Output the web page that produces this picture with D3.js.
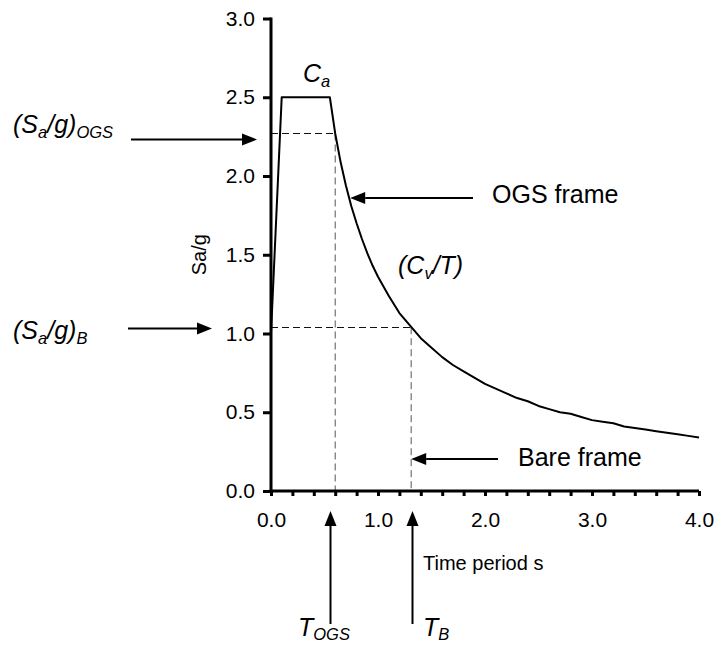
<!DOCTYPE html>
<html>
<head>
<meta charset="utf-8">
<script src="https://cdn.jsdelivr.net/npm/d3@7"></script>
<style>
  html, body { margin: 0; padding: 0; background: #fff; }
  svg { display: block; }
  text { font-family: "Liberation Sans", Arial, Helvetica, sans-serif; fill: #000; }
</style>
</head>
<body>
<svg id="chart" width="715" height="647"></svg>
<script>
// Design spectrum: time period (s) against spectral acceleration ratio Sa/g
const periods = [0, 0.1, 0.55, 0.6, 0.65, 0.7, 0.75, 0.8, 0.85, 0.9, 0.95, 1.0,
  1.1, 1.2, 1.3, 1.4, 1.5, 1.6, 1.7, 1.8, 1.9, 2.0, 2.1, 2.2, 2.3, 2.4, 2.5,
  2.6, 2.7, 2.8, 2.9, 3.0, 3.1, 3.2, 3.3, 3.4, 3.5, 3.6, 3.7, 3.8, 3.9, 4.0];
const saValues = [1.0, 2.5, 2.5, 2.27, 2.09, 1.94, 1.81, 1.70, 1.60, 1.51, 1.43, 1.36,
  1.24, 1.13, 1.05, 0.97, 0.91, 0.85, 0.80, 0.76, 0.72, 0.68, 0.65, 0.62, 0.59, 0.57, 0.54,
  0.52, 0.50, 0.49, 0.47, 0.45, 0.44, 0.43, 0.41, 0.40, 0.39, 0.38, 0.37, 0.36, 0.35, 0.34];

// Fundamental periods and spectral ordinates of the two frames
const framePeriods = [0.6, 1.31];     // OGS frame, bare frame
const frameSa = [2.27, 1.04];

const xTicks = [0, 0.2, 0.4, 0.6, 0.8, 1.0, 1.2, 1.4, 1.6, 1.8, 2.0, 2.2, 2.4, 2.6, 2.8, 3.0, 3.2, 3.4, 3.6, 3.8, 4.0];
const xLabels = [0, 1, 2, 3, 4];
const yTicks = [0, 0.5, 1.0, 1.5, 2.0, 2.5, 3.0];

const svg = d3.select("#chart");
const x = d3.scaleLinear().domain([0, 4]).range([271, 699]);
const y = d3.scaleLinear().domain([0, 3]).range([491, 18.5]);

// Dashed guide lines for the two frames
const guides = svg.append("g").attr("fill", "none").attr("stroke-width", 1)
  .attr("stroke-dasharray", "7,4");
framePeriods.forEach((t, i) => {
  guides.append("line")
    .attr("x1", x(0)).attr("x2", x(t))
    .attr("y1", Math.round(y(frameSa[i])) + 0.5).attr("y2", Math.round(y(frameSa[i])) + 0.5)
    .attr("stroke", "#111");
  guides.append("line")
    .attr("x1", x(t)).attr("x2", x(t))
    .attr("y1", y(frameSa[i])).attr("y2", y(0))
    .attr("stroke", "#555");
});

// Spectrum curve
const pts = periods.map((t, i) => [t, saValues[i]]);
svg.append("path")
  .datum(pts)
  .attr("fill", "none")
  .attr("stroke", "#000")
  .attr("stroke-width", 2)
  .attr("stroke-linejoin", "round")
  .attr("d", d3.line().x(d => x(d[0])).y(d => y(d[1])));

// Axes
const yAxis = svg.append("g")
  .attr("transform", `translate(${x(0)},0)`)
  .call(d3.axisLeft(y).tickValues(yTicks).tickSize(8).tickSizeOuter(0).tickPadding(8)
    .tickFormat(d3.format(".1f")));
const xAxis = svg.append("g")
  .attr("transform", `translate(0,${y(0)})`)
  .call(d3.axisBottom(x).tickValues(xTicks).tickSize(5).tickSizeOuter(0).tickPadding(16)
    .tickFormat(d => xLabels.includes(d) ? d3.format(".1f")(d) : ""));
[xAxis, yAxis].forEach(a => {
  a.select(".domain").attr("stroke", "#000").attr("stroke-width", 3);
  a.selectAll(".tick line").attr("stroke", "#000").attr("stroke-width", 3);
  a.selectAll(".tick text").attr("font-size", 21)
    .attr("font-family", "'Liberation Sans', Arial, sans-serif").attr("fill", "#000");
});
// extend the axis lines to meet at the corner
xAxis.select(".domain").attr("d", `M${x(0) - 1.5},0H${x(4)}`);
yAxis.select(".domain").attr("d", `M0,${y(0) + 1.5}V${y(3) - 1}`);

// Axis titles
svg.append("text")
  .attr("transform", `translate(206,${y(1.5)}) rotate(-90)`)
  .attr("text-anchor", "middle")
  .attr("font-size", 20)
  .text("Sa/g");
svg.append("text")
  .attr("x", 423).attr("y", 570)
  .attr("font-size", 20)
  .text("Time period s");

// Arrow helper
function arrow(x1, y1, x2, y2) {
  const g = svg.append("g");
  const ang = Math.atan2(y2 - y1, x2 - x1);
  const L = 15, W = 6;
  const bx = x2 - L * Math.cos(ang), by = y2 - L * Math.sin(ang);
  g.append("line").attr("x1", x1).attr("y1", y1).attr("x2", bx).attr("y2", by)
    .attr("stroke", "#000").attr("stroke-width", 2);
  g.append("path")
    .attr("d", `M${x2},${y2}L${bx - W * Math.sin(ang)},${by + W * Math.cos(ang)}L${bx + W * Math.sin(ang)},${by - W * Math.cos(ang)}Z`)
    .attr("fill", "#000");
}

// Labels with subscripts
function label(xp, yp, parts, size, drop) {
  const t = svg.append("text").attr("x", xp).attr("y", yp)
    .attr("font-size", size).attr("font-style", "italic");
  let shift = 0;
  parts.forEach(p => {
    const s = p.sub ? drop : 0;
    t.append("tspan")
      .attr("dy", s - shift)
      .attr("font-size", p.sub ? size * 0.66 : size)
      .text(p.t);
    shift = s;
  });
  return t;
}

label(303, 82, [{t: "C"}, {t: "a", sub: true}], 25, 5);
label(398, 274, [{t: "(C"}, {t: "v", sub: true}, {t: "/T)"}], 25, 5);
label(13, 133, [{t: "(S"}, {t: "a", sub: true}, {t: "/g)"}, {t: "OGS", sub: true}], 25, 5);
label(13, 339, [{t: "(S"}, {t: "a", sub: true}, {t: "/g)"}, {t: "B", sub: true}], 25, 5);
label(298, 636, [{t: "T"}, {t: "OGS", sub: true}], 25, 4);
label(423, 636, [{t: "T"}, {t: "B", sub: true}], 25, 4);

svg.append("text").attr("x", 492).attr("y", 203).attr("font-size", 25).text("OGS frame");
svg.append("text").attr("x", 518).attr("y", 466).attr("font-size", 25).text("Bare frame");

// Annotation arrows
arrow(131, 139.5, 257, 139.5);
arrow(128, 328.5, 212, 328.5);
arrow(473, 198, x(0.74), 198);
arrow(498, 459, x(framePeriods[1]), 459);
arrow(330.5, 624, 330.5, 511);
arrow(412.5, 624, 412.5, 511);
</script>
</body>
</html>
